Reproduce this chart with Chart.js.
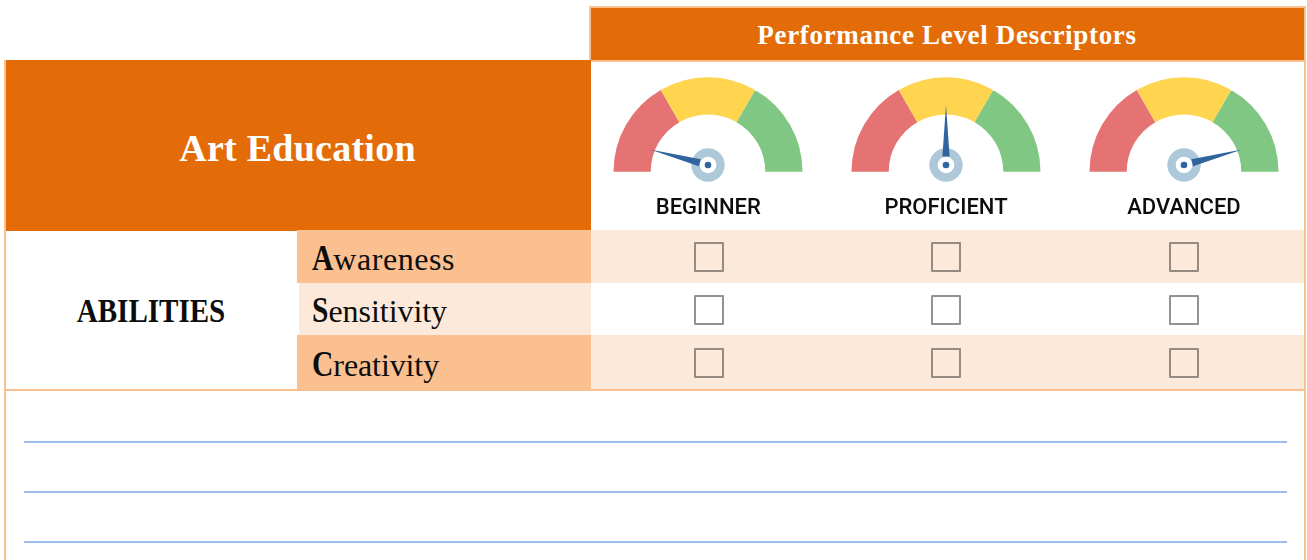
<!DOCTYPE html>
<html><head><meta charset="utf-8">
<style>
html,body{margin:0;padding:0;background:#fff;overflow:hidden}
#page{position:relative;width:1307px;height:560px;overflow:hidden;font-family:"Liberation Serif",serif;color:#0d0d0d}
.b{position:absolute}
.t{position:absolute;white-space:nowrap}
canvas{position:absolute}
</style>
<script src="https://cdn.jsdelivr.net/npm/chart.js@4"></script>
</head><body><div id="page"></div>
<script>
const levels = ["BEGINNER","PROFICIENT","ADVANCED"];
const needleValues = [8.3, 50, 91.7];
const zones = ["Low","Medium","High"];
const zoneShares = [1,1,1];
const zoneColors = ["#e57373","#ffd54f","#81c784"];
const abilities = ["Awareness","Sensitivity","Creativity"];
const pageTitle = "Art Education";
const headerTitle = "Performance Level Descriptors";
const rowTitle = "ABILITIES";

const page = document.getElementById('page');
function box(x,y,w,h,c,extra){const d=document.createElement('div');d.className='b';d.style.cssText=`left:${x}px;top:${y}px;width:${w}px;height:${h}px;background:${c};${extra||''}`;page.appendChild(d);return d;}
function text(s,cx,cy,css){const d=document.createElement('div');d.className='t';d.textContent=s;d.style.cssText=`left:${cx}px;top:${cy}px;transform:translate(-50%,-50%);${css}`;page.appendChild(d);return d;}

const ORANGE="#e36c09",MID="#fac090",PALE="#fde9d9";
// frame
box(4,60,2,500,MID);
box(1304,6,2,554,MID);
box(589,6,717,2,MID);
box(589,6,2,54,MID);
box(591,8,713,52,ORANGE);
box(591,60,713,2,MID);
box(6,60,585,171,ORANGE);
box(4,389,1302,2,MID);
// rows
const rowTops=[230,283,335], rowH=[53,52,54];
const colX=[694,931,1169];
const boxTop=[241.5,295,348];
const baseY=[27.5,27.3,28.6];
const wordSpacing=[.55,-.05,-.1];
abilities.forEach((a,i)=>{
  const odd=i%2===0;
  box(297+(odd?0:2),rowTops[i],294-(odd?0:2),rowH[i],odd?MID:PALE);
  if(odd) box(591,rowTops[i],713,rowH[i],PALE);
  colX.forEach(x=>{box(x,boxTop[i],30,30,odd?PALE:'#fff','box-sizing:border-box;border:2px solid rgba(85,80,75,.62);border-radius:1px');});
  const d=document.createElement('div');d.className='t';
  d.style.cssText=`left:312px;top:${rowTops[i]+baseY[i]}px;transform:translateY(-50%);font-size:32px;letter-spacing:${wordSpacing[i]}px;color:#0d0d0d`;
  const f=document.createElement('b');f.textContent=a[0];
  f.style.cssText='font-size:36px;display:inline-block;transform:scaleX(.82);transform-origin:0 50%;letter-spacing:0';
  d.appendChild(f);d.appendChild(document.createTextNode(a.slice(1)));page.appendChild(d);
  f.style.marginRight=(-0.18*f.offsetWidth)+'px';
});
// texts
text(headerTitle,947,35,'font-size:27px;font-weight:700;color:#fff;letter-spacing:.67px');
text(pageTitle,297.5,148,'font-size:38px;font-weight:700;color:#fff;letter-spacing:.25px');
text(rowTitle,151,310.5,'font-size:33px;font-weight:700;color:#0d0d0d').style.transform='translate(-50%,-50%) scaleX(.88)';
// writing lines
[441,491,541].forEach(y=>box(23.5,y,1263.5,2,'#9cbeeb'));

// gauges
const centers=[708.3,946,1184];
const needlePlugin={id:'needle',afterDatasetsDraw(c){
  const arc=c.getDatasetMeta(0).data[0], v=c.options.plugins.needle.value;
  const ctx=c.ctx,hx=arc.x,hy=arc.y-6.8,len=60,ang=Math.PI*(1-v/100);
  const ux=Math.cos(ang),uy=-Math.sin(ang),px=-uy,py=ux;
  ctx.save();
  ctx.fillStyle='#adc8d8';ctx.beginPath();ctx.arc(hx,hy,16.7,0,7);ctx.fill();
  ctx.fillStyle='#fff';ctx.beginPath();ctx.arc(hx,hy,8.3,0,7);ctx.fill();
  ctx.fillStyle='#2f659c';
  ctx.beginPath();ctx.moveTo(hx+ux*len,hy+uy*len);
  ctx.lineTo(hx+ux*8.5+px*3.6,hy+uy*8.5+py*3.6);
  ctx.lineTo(hx+ux*8.5-px*3.6,hy+uy*8.5-py*3.6);ctx.closePath();ctx.fill();
  ctx.beginPath();ctx.arc(hx,hy,3.3,0,7);ctx.fill();
  ctx.restore();
}};
levels.forEach((lv,i)=>{
  const cv=document.createElement('canvas');
  cv.style.cssText=`left:${centers[i]-100}px;top:72px;width:200px;height:125px`;
  cv.width=200;cv.height=125;page.appendChild(cv);
  new Chart(cv,{type:'doughnut',plugins:[needlePlugin],
    data:{labels:zones,datasets:[{data:zoneShares,backgroundColor:zoneColors,borderWidth:0}]},
    options:{responsive:false,animation:false,rotation:-90,circumference:180,cutout:'60.6%',
      layout:{padding:{left:5.5,right:5.5,top:5,bottom:25}},
      plugins:{legend:{display:false},tooltip:{enabled:false},needle:{value:needleValues[i]}}}});
  text(lv,centers[i],206,'font-family:Roboto,sans-serif;font-weight:500;font-size:22px;color:#0d0d0d');
});
</script></body></html>
